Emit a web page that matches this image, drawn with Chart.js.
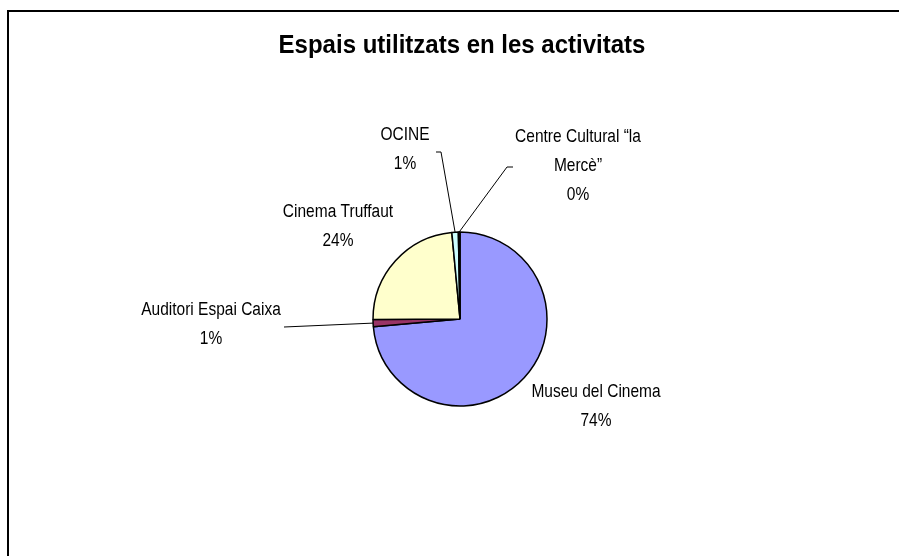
<!DOCTYPE html>
<html>
<head>
<meta charset="utf-8">
<title>Espais utilitzats en les activitats</title>
<script src="https://cdn.jsdelivr.net/npm/chart.js@4.4.0/dist/chart.umd.min.js"></script>
<style>
    html, body { margin: 0; padding: 0; background: #ffffff; }
    #wrap { width: 899px; height: 556px; position: relative; }
</style>
</head>
<body>
<div id="wrap"><canvas id="pieChart"></canvas></div>
<script>
const chartTitle = 'Espais utilitzats en les activitats';
const spaces = ['Museu del Cinema', 'Auditori Espai Caixa', 'Cinema Truffaut', 'OCINE', 'Centre Cultural “la Mercè”'];
const shares = [73.6, 1.3, 23.6, 1.2, 0.3];
const sliceColors = ['#9999FF', '#993366', '#FFFFCC', '#CCFFFF', '#660066'];

// label placement relative to the pie centre (px); leader = points before the slice edge
const labelLayout = [
    { dx: 136, dy: 73 },
    { dx: -249, dy: -9, leader: [[-176, 8]] },
    { dx: -122, dy: -107 },
    { dx: -55, dy: -184, leader: [[-24, -167], [-19, -167]] },
    { dx: 118, dy: -182, wrap: 135, leader: [[53, -152], [47, -152]] }
];

const FONT = "'Liberation Sans', Arial, sans-serif";

function wrapText(ctx, text, maxWidth) {
    if (!maxWidth) return [text];
    const words = text.split(' ');
    const lines = [];
    let line = '';
    words.forEach(w => {
        const test = line ? line + ' ' + w : w;
        if (line && ctx.measureText(test).width > maxWidth) {
            lines.push(line);
            line = w;
        } else {
            line = test;
        }
    });
    if (line) lines.push(line);
    return lines;
}

// the old Excel export draws text a bit taller than wide
function tallText(ctx, text, x, y, stretch) {
    ctx.save();
    ctx.translate(x, y);
    ctx.scale(1, stretch);
    ctx.fillText(text, 0, 0);
    ctx.restore();
}

const excelLook = {
    id: 'excelLook',
    afterDraw(chart) {
        const ctx = chart.ctx;
        const meta = chart.getDatasetMeta(0);
        const total = shares.reduce((a, b) => a + b, 0);

        ctx.save();
        // outer frame (only left and top edges are inside the picture)
        ctx.strokeStyle = '#000';
        ctx.lineWidth = 2;
        ctx.beginPath();
        ctx.moveTo(8, 570);
        ctx.lineTo(8, 11);
        ctx.lineTo(910, 11);
        ctx.stroke();

        // title
        ctx.fillStyle = '#000';
        ctx.font = 'bold 24px ' + FONT;
        ctx.textAlign = 'center';
        ctx.textBaseline = 'middle';
        tallText(ctx, chartTitle, 462, 46, 1.07);

        // data labels + leader lines
        ctx.font = '15.5px ' + FONT;
        ctx.lineWidth = 1;
        meta.data.forEach((arc, i) => {
            const p = arc.getProps(['x', 'y', 'startAngle', 'endAngle', 'outerRadius'], true);
            const lay = labelLayout[i];
            const pct = Math.round(shares[i] / total * 100) + '%';
            const lines = wrapText(ctx, spaces[i], lay.wrap).concat([pct]);
            lines.forEach((t, k) => {
                tallText(ctx, t, p.x + lay.dx, p.y + lay.dy + k * 29, 1.15);
            });
            if (lay.leader) {
                const mid = (p.startAngle + p.endAngle) / 2;
                const ex = p.x + Math.cos(mid) * p.outerRadius;
                const ey = p.y + Math.sin(mid) * p.outerRadius;
                ctx.beginPath();
                lay.leader.forEach((pt, k) => {
                    const lx = p.x + pt[0], ly = p.y + pt[1];
                    if (k === 0) ctx.moveTo(lx, ly); else ctx.lineTo(lx, ly);
                });
                ctx.lineTo(ex, ey);
                ctx.stroke();
            }
        });
        ctx.restore();
    }
};

const ctx = document.getElementById('pieChart').getContext('2d');
new Chart(ctx, {
    type: 'pie',
    data: {
        labels: spaces,
        datasets: [{
            data: shares,
            backgroundColor: sliceColors,
            borderColor: '#000000',
            borderWidth: 1.5
        }]
    },
    options: {
        responsive: true,
        maintainAspectRatio: false,
        animation: false,
        radius: 87,
        layout: {
            padding: { left: 373, right: 352, top: 232, bottom: 150 }
        },
        plugins: {
            legend: { display: false },
            title: { display: false },
            tooltip: { enabled: false }
        }
    },
    plugins: [excelLook]
});
</script>
</body>
</html>
